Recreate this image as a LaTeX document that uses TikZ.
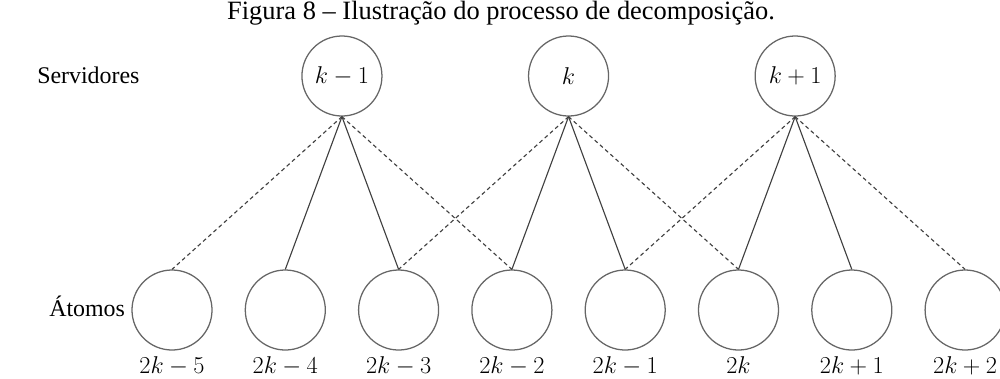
\documentclass[tikz,border=0pt]{standalone}
\usepackage{amssymb}
\usepackage{amsmath}
\usepackage{fontspec}
\setmainfont{Liberation Serif}
\usepackage{tikz}
\usetikzlibrary{positioning}
\usepackage{xcolor}

\begin{document}
\begin{tikzpicture}[x=0.025cm, y=-0.025cm,
	server/.style={circle, draw=black!60, line width=0.9pt, minimum size=2cm, inner sep=0pt, font=\fontsize{17}{20}\selectfont},
	atom/.style={circle, draw=black!60, line width=0.9pt, minimum size=2cm, inner sep=0pt},
	atomlabel/.style={inner sep=0pt, font=\fontsize{17.5}{20}\selectfont},
	tag/.style={inner sep=0pt, font=\fontsize{17}{20}\selectfont},
	strong/.style={draw=black!75, line width=0.8pt},
	weak/.style={draw=black!75, line width=0.8pt, dash pattern=on 2.8pt off 2.2pt}
	]
	\useasboundingbox (0,0) rectangle (1000,378);

	\node[tag, anchor=base, font=\fontsize{18.8}{22}\selectfont] (title) at (501,19) {Figura 8 -- Ilustração do processo de decomposição.};
	\node[tag, anchor=base west] (servidores) at (37,83) {Servidores};
	\node[tag, anchor=base west] (atomos) at (49,316) {Átomos};

	\foreach \lbl [count=\j from 0] in {k-1,k,k+1}
		\node[server] (s\j) at ({172+113.3*(1.5+2*\j)},76) {$\lbl$};

	\foreach \lbl [count=\i from 0] in {2k-5,2k-4,2k-3,2k-2,2k-1,2k,2k+1,2k+2} {
		\node[atom] (a\i) at ({172+113.3*\i},310) {};
		\node[atomlabel, below=4pt of a\i] (l\i) {$\lbl$};
	}

	\foreach \j [evaluate=\j as \p using int(2*\j), evaluate=\j as \q using int(2*\j+1),
		evaluate=\j as \r using int(2*\j+2), evaluate=\j as \t using int(2*\j+3)] in {0,1,2} {
		\draw[weak] (s\j.south) -- (a\p.north);
		\draw[strong] (s\j.south) -- (a\q.north);
		\draw[strong] (s\j.south) -- (a\r.north);
		\draw[weak] (s\j.south) -- (a\t.north);
	}
\end{tikzpicture}
\end{document}
